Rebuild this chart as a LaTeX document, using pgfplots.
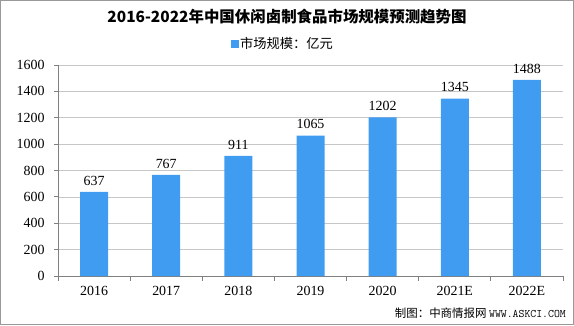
\documentclass[border=0pt]{standalone}
\usepackage{pgfplots}
\pgfplotsset{compat=1.18}
\usepackage{fontspec}
\setmainfont{Liberation Serif}
\newfontfamily\cjk{Noto Sans CJK SC}
\definecolor{barblue}{HTML}{3F9CF0}
\begin{document}
\begin{tikzpicture}[x=1bp,y=1bp]
\draw[gray!80, line width=1bp] (0.5,0.5) rectangle (573.5,324.5);
\node[font=\cjk\bfseries\fontsize{15.5}{16}\selectfont] at (287,308) {2016-2022年中国休闲卤制食品市场规模预测趋势图};
\fill[barblue] (231,277) rectangle (239,285);
\node[anchor=west, font=\cjk\fontsize{13.3}{14}\selectfont, inner sep=0] at (240,281.5) {市场规模：亿元};
\node[anchor=east, font=\cjk\fontsize{11.5}{12}\selectfont, inner sep=0] at (566,12) {制图：中商情报网 \ttfamily WWW.ASKCI.COM};
\begin{axis}[
  at={(58bp,49bp)}, anchor=south west,
  width=505bp, height=211bp, scale only axis,
  xmin=-0.5, xmax=6.5, ymin=0, ymax=1600,
  ytick={0,200,...,1600},
  xtick={0,...,6},
  xticklabels={2016,2017,2018,2019,2020,2021E,2022E},
  minor xtick={-0.5,0.5,...,6.5},
  major x tick style={draw=none},
  minor tick length=5bp,
  xtick align=outside,
  ytick align=outside,
  major tick length=4bp,
  tick style={gray, line width=0.8bp},
  ymajorgrids,
  grid style={gray!45, line width=0.6bp},
  axis x line*=bottom, axis y line*=left,
  axis line style={gray, line width=0.8bp, -},
  ticklabel style={font=\fontsize{14}{15}\selectfont},
  yticklabel style={xshift=-6bp},
  xticklabel style={yshift=-3bp},
  /pgf/number format/assume math mode=true,
  /pgf/number format/1000 sep={},
  ybar, bar width=28bp,
  nodes near coords,
  nodes near coords style={font=\fontsize{14}{15}\selectfont, yshift=3bp},
]
\addplot[fill=barblue, draw=none] coordinates {(0,637) (1,767) (2,911) (3,1065) (4,1202) (5,1345) (6,1488)};
\end{axis}
\end{tikzpicture}
\end{document}
